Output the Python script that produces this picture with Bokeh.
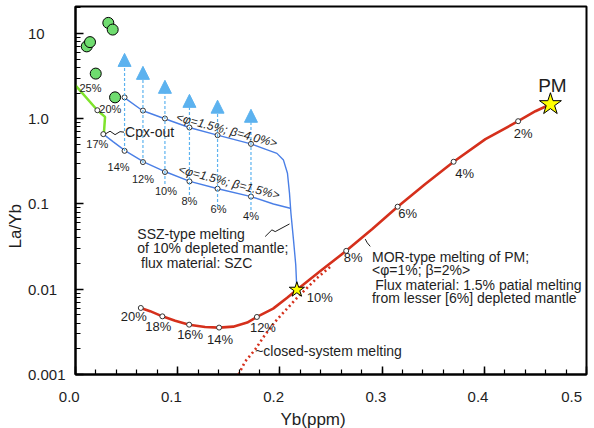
from bokeh.plotting import figure
from bokeh.models import (Range1d, FixedTicker, Label, Title,
                          ColumnDataSource, Arrow, NormalHead)
from bokeh.core.properties import value
from bokeh.embed import file_html
from bokeh.resources import INLINE

# ---------------- data ----------------
# Observed samples
sample_yb = [0.0110, 0.0142, 0.0321, 0.0364, 0.0198, 0.0387]
sample_layb = [7.05, 7.91, 13.3, 11.1, 3.38, 1.78]

# Continued melting until Cpx-out (25% -> 20% -> 17%)
cpx_path_yb = [0.0, 0.0214, 0.0289, 0.0279, 0.0272]
cpx_path_layb = [2.46, 1.257, 1.05, 0.70, 0.659]
cpx_melt = ["25%", "20%", "17%"]
cpx_yb = [0.0, 0.0214, 0.0272]
cpx_layb = [2.46, 1.257, 0.659]

# SSZ-type melting of 10% depleted mantle (flux: SZC)
ssz_melt = ["14%", "12%", "10%", "8%", "6%", "4%"]
ssz_yb = [0.048, 0.066, 0.0875, 0.1115, 0.139, 0.1717]
ssz_beta40_layb = [1.78, 1.247, 1.005, 0.789, 0.641, 0.507]
ssz_beta15_layb = [0.420, 0.310, 0.237, 0.184, 0.151, 0.122]
ssz_beta40_path_yb = [0.0475, 0.0654, 0.0867, 0.1112, 0.1389, 0.1716, 0.1856,
                      0.1971, 0.2035, 0.2074, 0.2094, 0.2108, 0.2133, 0.2155, 0.2166]
ssz_beta40_path_layb = [1.78, 1.247, 1.005, 0.789, 0.641, 0.507, 0.440,
                        0.392, 0.327, 0.229, 0.133, 0.0778, 0.0379, 0.0194, 0.00987]
ssz_beta15_path_yb = [0.0272, 0.037, 0.0488, 0.0671, 0.0886, 0.1119, 0.1393,
                      0.1719, 0.1937, 0.2101]
ssz_beta15_path_layb = [0.659, 0.535, 0.420, 0.310, 0.237, 0.184, 0.151,
                        0.122, 0.100, 0.0891]
# Flux enrichment arrows (La/Yb from base to tip)
arrow_base_layb = [0.417, 0.302, 0.171, 0.127, 0.0922, 0.0851]
arrow_tip_layb = [5.83, 4.11, 2.82, 1.93, 1.65, 1.29]

# MOR-type melting of PM
mor_melt = ["20%", "18%", "16%", "14%", "12%", "8%", "6%", "4%", "2%"]
mor_yb = [0.0639, 0.0850, 0.1112, 0.1405, 0.1775, 0.2649, 0.3152, 0.3700, 0.4331]
mor_layb = [0.00603, 0.00481, 0.00384, 0.00355, 0.00473, 0.0282, 0.0929, 0.3126, 0.935]
mor_path_yb = [0.0639, 0.0730, 0.0850, 0.0975, 0.1112, 0.1268, 0.1405, 0.1543,
               0.1680, 0.1775, 0.1934, 0.2071, 0.2166, 0.2399, 0.2649, 0.2904,
               0.3152, 0.3423, 0.3700, 0.4011, 0.4331, 0.4500, 0.4647]
mor_path_layb = [0.00603, 0.00553, 0.00481, 0.00428, 0.00384, 0.00360, 0.00355,
                 0.00364, 0.00406, 0.00473, 0.00592, 0.00796, 0.00987, 0.01645,
                 0.0282, 0.0510, 0.0929, 0.1714, 0.3126, 0.576, 0.935, 1.224, 1.478]
# 10% melt point (star) and primitive mantle
melt10_yb, melt10_layb = 0.2166, 0.00987
pm_yb, pm_layb = 0.4647, 1.478

# Closed-system melting
closed_yb = [0.1595, 0.1660, 0.1758, 0.1856, 0.1971, 0.2166, 0.2362, 0.2493]
closed_layb = [0.001, 0.00142, 0.00196, 0.00294, 0.00440, 0.00789, 0.0135, 0.0183]

# Axis ticks
x_ticks = [0.0, 0.1, 0.2, 0.3, 0.4, 0.5]
x_tick_labels = ["0.0", "0.1", "0.2", "0.3", "0.4", "0.5"]
y_ticks = [0.001, 0.01, 0.1, 1.0, 10.0]
y_tick_labels = ["0.001", "0.01", "0.1", "1.0", "10"]

# ---------------- styles ----------------
FONT = "Liberation Sans"
TXT = "#1e1e1e"
RED = "#d5301c"
BLUE = "#4a7fe6"
LBLUE = "#5cb2ef"
GREEN = "#7fe32c"
FIG_SP, PUNCT_SP = "\u2007", "\u2008"   # digit-wide and period-wide spaces

p = figure(width=594, height=428, x_range=Range1d(0, 0.5),
           y_range=Range1d(0.001, 20.7), y_axis_type="log",
           output_backend="svg", toolbar_location=None,
           min_border_left=75, min_border_right=8,
           min_border_top=6, min_border_bottom=53)
p.background_fill_color = "white"
p.border_fill_color = "white"
p.grid.visible = False
p.outline_line_color = "black"
p.outline_line_width = 2

minor_x = [round(0.02 * i, 2) for i in range(26)]
minor_y = [m * 10.0 ** e for e in range(-3, 2) for m in range(2, 10) if m * 10.0 ** e <= 20.7]
p.xaxis.ticker = FixedTicker(ticks=x_ticks, minor_ticks=minor_x)
p.yaxis.ticker = FixedTicker(ticks=y_ticks, minor_ticks=minor_y)


def pad_right(label, widest):
    # pad with digit/period-wide spaces so right-aligned labels line up on the left
    extra_digits = sum(c.isdigit() for c in widest) - sum(c.isdigit() for c in label)
    extra_dots = widest.count(".") - label.count(".")
    return label + FIG_SP * extra_digits + PUNCT_SP * extra_dots


p.yaxis.major_label_overrides = {t: pad_right(s, "0.001") for t, s in zip(y_ticks, y_tick_labels)}
p.xaxis.major_label_overrides = {t: s + FIG_SP + PUNCT_SP for t, s in zip(x_ticks, x_tick_labels)}
p.yaxis.major_label_standoff = 10
p.xaxis.major_label_standoff = 13

for ax in (p.xaxis, p.yaxis):
    ax.axis_line_width = 2
    ax.axis_line_color = "black"
    ax.major_tick_in = 8
    ax.major_tick_out = 0
    ax.minor_tick_in = 5
    ax.minor_tick_out = 0
    ax.major_tick_line_width = 1.5
    ax.minor_tick_line_width = 1.2
    ax.major_tick_line_color = "black"
    ax.minor_tick_line_color = "black"
    ax.major_label_text_font = FONT
    ax.major_label_text_font_size = "15px"
    ax.major_label_text_color = TXT

# axis titles
p.add_layout(Title(text="Yb(ppm)", align="left", offset=205, standoff=0,
                   text_font=FONT, text_font_size="17px", text_font_style="normal",
                   text_color=TXT), "below")
p.add_layout(Title(text="La/Yb", align="left", offset=126, standoff=0,
                   text_font=FONT, text_font_size="17px", text_font_style="normal",
                   text_color=TXT), "left")

# ---- SSZ curves ----
p.line(ssz_beta40_path_yb, ssz_beta40_path_layb, line_color=BLUE, line_width=1.4)
p.line(ssz_beta15_path_yb, ssz_beta15_path_layb, line_color=BLUE, line_width=1.4)

# flux-addition arrows
arrow_src = ColumnDataSource(dict(x=ssz_yb, y0=arrow_base_layb, y1=arrow_tip_layb))
p.add_layout(Arrow(end=NormalHead(size=13, fill_color=LBLUE, line_color=LBLUE),
                   x_start="x", y_start="y0", x_end="x", y_end="y1",
                   source=arrow_src, line_color=LBLUE, line_width=1.2,
                   line_dash="3 2"))

# ---- Cpx-out trend ----
p.line(cpx_path_yb, cpx_path_layb, line_color=GREEN, line_width=2.5)

# ---- closed-system and MOR melting ----
p.line(closed_yb, closed_layb, line_color=RED, line_width=2.6, line_dash="2 3")
p.line(mor_path_yb, mor_path_layb, line_color=RED, line_width=2.6)

# leader squiggles
p.line([0.0289, 0.0338, 0.0387, 0.0436, 0.0475],
       [0.659, 0.714, 0.650, 0.705, 0.695], line_color=TXT, line_width=1)
p.line([0.1856, 0.1922, 0.1954, 0.2094], [0.0415, 0.0497, 0.0474, 0.0583],
       line_color=TXT, line_width=1)
p.line([0.2835, 0.2855, 0.2884], [0.0387, 0.0350, 0.0318], line_color=TXT, line_width=1)

# sample points
p.scatter(sample_yb, sample_layb, marker="circle", size=11,
          fill_color="#6fdc6f", line_color="black", line_width=1)

# melt-step markers
marker_kw = dict(marker="circle", size=5, fill_color="white",
                 line_color="#333333", line_width=1)
p.scatter(cpx_yb[1:], cpx_layb[1:], **marker_kw)
p.scatter(ssz_yb, ssz_beta40_layb, **marker_kw)
p.scatter(ssz_yb, ssz_beta15_layb, **marker_kw)
p.scatter(mor_yb, mor_layb, **marker_kw)

# stars
p.scatter([melt10_yb], [melt10_layb], marker="star", size=16,
          fill_color="#ffff00", line_color="black", line_width=1)
p.scatter([pm_yb], [pm_layb], marker="star", size=23,
          fill_color="#ffff00", line_color="black", line_width=1)


# melt-degree labels
def melt_labels(xs, ys, texts, dx, dy, size):
    src = ColumnDataSource(dict(x=xs, y=ys, t=texts, dx=dx, dy=dy))
    p.text(x="x", y="y", text="t", x_offset="dx", y_offset="dy", source=src,
           text_font=value(FONT), text_font_size=value(size), text_color=TXT,
           text_align="center", text_baseline="middle")


melt_labels(cpx_yb, cpx_layb, cpx_melt, [15, 13, -6], [3, -1, 10], "11px")
melt_labels(ssz_yb, ssz_beta15_layb, ssz_melt,
            [-6, 0, 1, 0, 1, 0], [16, 17, 19, 20, 20, 19], "11px")
melt_labels(mor_yb + [melt10_yb], mor_layb + [melt10_layb], mor_melt + ["10%"],
            [-7, -4, 1, 1, 6, 7, 10, 11, 5, 23], [9, 10, 10, 12, 11, 7, 7, 12, 12, 8],
            "13px")
melt_labels([pm_yb], [pm_layb], ["PM"], [2], [-19], "19px")


# free annotations
def note(x, y, text, size="14px", align="left", angle=0.0, style="normal"):
    p.add_layout(Label(x=x, y=y, text=text, angle=angle, text_font=FONT,
                       text_font_size=size, text_color=TXT, text_align=align,
                       text_baseline="middle", text_font_style=style))


note(0.0485, 0.690, "Cpx-out", size="14px")
note(0.1481, 0.734, "<\u03c6=1.5%; \u03b2=4.0%>", size="12px", align="center",
     angle=-0.26, style="italic")
note(0.1503, 0.1795, "<\u03c6=1.5%; \u03b2=1.5%>", size="12px", align="center",
     angle=-0.257, style="italic")
note(0.0605, 0.0442, "SSZ-type melting")
note(0.0605, 0.0303, "of 10% depleted mantle;")
note(0.0641, 0.0202, "flux material: SZC")
note(0.2901, 0.0242, "MOR-type melting of PM;")
note(0.2901, 0.0166, "<\u03c6=1%; \u03b2=2%>")
note(0.2933, 0.0113, "Flux material: 1.5% patial melting")
note(0.2901, 0.00789, "from lesser [6%] depleted mantle")
note(0.1758, 0.00191, "~closed-system melting")

open("out.html", "w").write(file_html(p, INLINE))
